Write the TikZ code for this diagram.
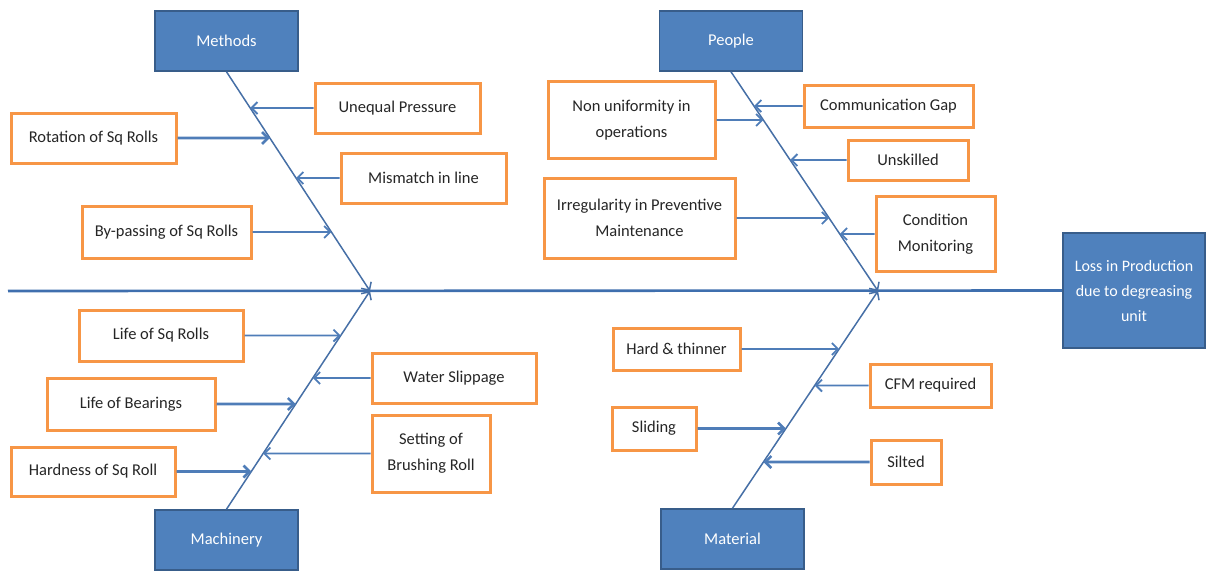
\documentclass[tikz,border=0pt]{standalone}
\usepackage{fontspec}
\setmainfont{Carlito}
\usetikzlibrary{arrows.meta}
\definecolor{catblue}{HTML}{4F81BD}
\definecolor{catborder}{HTML}{385D8A}
\definecolor{causeorange}{HTML}{F79646}
\definecolor{linkblue}{HTML}{4F7DB8}
\definecolor{bonecol}{HTML}{466FA6}
\definecolor{spinecol}{HTML}{3F6FAE}
\begin{document}
\begin{tikzpicture}[x=1pt,y=-1pt,
  catbox/.style={draw=catborder, fill=catblue, line width=1.6pt, text=white,
    minimum width=143pt, minimum height=60pt, inner sep=0pt,
    font=\fontsize{16.5}{20}\selectfont},
  effectbox/.style={draw=catborder, fill=catblue, line width=1.6pt, text=white,
    minimum width=142pt, minimum height=115pt, inner sep=0pt, align=center,
    font=\fontsize{16}{25}\selectfont},
  causebox/.style={draw=causeorange, line width=3pt, fill=white, inner sep=0pt,
    align=center, text=black!85, font=\fontsize{16.5}{26}\selectfont},
  bone/.style={draw=bonecol, line width=1.5pt, -{Straight Barb[length=6pt,width=12pt]}},
  spine/.style={draw=spinecol, line width=2.6pt},
  carrow/.style={draw=linkblue, line width=1.8pt, -{Straight Barb[length=6pt,width=12pt]}},
  carrowthick/.style={draw=linkblue, line width=2.6pt, -{Straight Barb[length=6pt,width=12pt]}}
]
\useasboundingbox (0,0) rectangle (1207,571);

% effect and spine
\node[effectbox] (effect) at (1134,290.5) {Loss in Production\\due to degreasing\\unit};
\coordinate (sl) at (8,291);
\coordinate (mj) at (370,291);
\coordinate (pj) at (878,291);
\draw[spine] (sl) -- (effect.west);

% categories
\node[catbox] (methods) at (226.5,41) {Methods};
\node[catbox] (people) at (731,41) {People};
\node[catbox] (machinery) at (226.5,540) {Machinery};
\node[catbox] (material) at (732.5,539) {Material};

\draw[bone] (methods.south) -- (mj);
\draw[bone] (people.south) -- (pj);
\draw[bone] (machinery.north) -- (mj);
\draw[bone] (material.north) -- (pj);

% Methods causes
\node[causebox, minimum width=165pt, minimum height=50pt] (c11) at (397.5,108) {Unequal Pressure};
\node[causebox, minimum width=165pt, minimum height=50pt] (c12) at (93.5,138) {Rotation of Sq Rolls};
\node[causebox, minimum width=165pt, minimum height=50pt] (c13) at (423.5,178) {Mismatch in line};
\node[causebox, minimum width=169pt, minimum height=52pt] (c14) at (166.5,232) {By-passing of Sq Rolls};

\draw[carrow] (c11.west) -- (intersection of methods.south--mj and c11.west--c11.east);
\draw[carrowthick] (c12.east) -- (intersection of methods.south--mj and c12.west--c12.east);
\draw[carrow] (c13.west) -- (intersection of methods.south--mj and c13.west--c13.east);
\draw[carrow] (c14.east) -- (intersection of methods.south--mj and c14.west--c14.east);

% People causes
\node[causebox, minimum width=167pt, minimum height=77pt] (c21) at (631.5,120) {Non uniformity in\\operations};
\node[causebox, minimum width=169pt, minimum height=42pt] (c22) at (888.5,106) {Communication Gap};
\node[causebox, minimum width=120pt, minimum height=40pt] (c23) at (908,160) {Unskilled};
\node[causebox, minimum width=191pt, minimum height=80pt] (c24) at (639.5,218) {Irregularity in Preventive\\Maintenance};
\node[causebox, minimum width=119pt, minimum height=75pt] (c25) at (935.5,234) {Condition\\Monitoring};

\draw[carrow] (c21.east) -- (intersection of people.south--pj and c21.west--c21.east);
\draw[carrow] (c22.west) -- (intersection of people.south--pj and c22.west--c22.east);
\draw[carrow] (c23.west) -- (intersection of people.south--pj and c23.west--c23.east);
\draw[carrow] (c24.east) -- (intersection of people.south--pj and c24.west--c24.east);
\draw[carrow] (c25.west) -- (intersection of people.south--pj and c25.west--c25.east);

% Machinery causes
\node[causebox, minimum width=164pt, minimum height=51pt] (c31) at (161,335.5) {Life of Sq Rolls};
\node[causebox, minimum width=164pt, minimum height=50pt] (c32) at (454,378) {Water Slippage};
\node[causebox, minimum width=168pt, minimum height=52pt] (c33) at (131,404) {Life of Bearings};
\node[causebox, minimum width=118pt, minimum height=77pt] (c34) at (431,453.5) {Setting of\\Brushing Roll};
\node[causebox, minimum width=164pt, minimum height=49pt] (c35) at (93,471.5) {Hardness of Sq Roll};

\draw[carrow] (c31.east) -- (intersection of machinery.north--mj and c31.west--c31.east);
\draw[carrow] (c32.west) -- (intersection of machinery.north--mj and c32.west--c32.east);
\draw[carrowthick] (c33.east) -- (intersection of machinery.north--mj and c33.west--c33.east);
\draw[carrow] (c34.west) -- (intersection of machinery.north--mj and c34.west--c34.east);
\draw[carrowthick] (c35.east) -- (intersection of machinery.north--mj and c35.west--c35.east);

% Material causes
\node[causebox, minimum width=127pt, minimum height=42pt] (c41) at (676.5,349) {Hard \& thinner};
\node[causebox, minimum width=121pt, minimum height=43pt] (c42) at (930.5,385.5) {CFM required};
\node[causebox, minimum width=84pt, minimum height=43pt] (c43) at (654,428.5) {Sliding};
\node[causebox, minimum width=70pt, minimum height=44pt] (c44) at (906,462) {Silted};

\draw[carrow] (c41.east) -- (intersection of material.north--pj and c41.west--c41.east);
\draw[carrow] (c42.west) -- (intersection of material.north--pj and c42.west--c42.east);
\draw[carrowthick] (c43.east) -- (intersection of material.north--pj and c43.west--c43.east);
\draw[carrowthick] (c44.west) -- (intersection of material.north--pj and c44.west--c44.east);
\end{tikzpicture}
\end{document}
